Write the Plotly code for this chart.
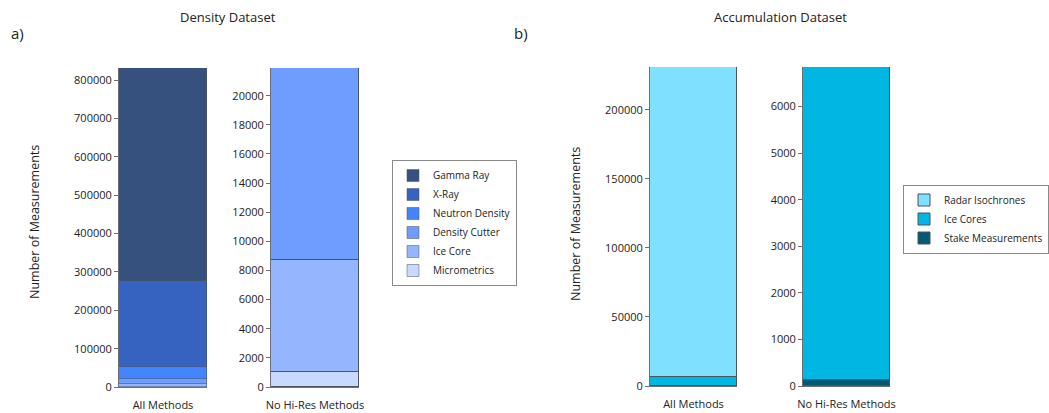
import plotly.graph_objects as go

# ---------------- data ----------------
density_methods = ["Micrometrics", "Ice Core", "Density Cutter", "Neutron Density", "X-Ray", "Gamma Ray"]
density_all = [1000, 7700, 13200, 29700, 224100, 556300]
density_nohires = [1000, 7700, 13200, 0, 0, 0]

accum_methods = ["Stake Measurements", "Ice Cores", "Radar Isochrones"]
accum_all = [120, 6730, 224150]
accum_nohires = [120, 6730, 0]

cat_all = "All Methods"
cat_nohires = "No Hi-Res Methods"

density_ticks_all = [0, 100000, 200000, 300000, 400000, 500000, 600000, 700000, 800000]
density_ticks_nohires = [0, 2000, 4000, 6000, 8000, 10000, 12000, 14000, 16000, 18000, 20000]
accum_ticks_all = [0, 50000, 100000, 150000, 200000]
accum_ticks_nohires = [0, 1000, 2000, 3000, 4000, 5000, 6000]

# ---------------- style ----------------
density_colors = ["#c8d9ff", "#93b6ff", "#6c9dff", "#4285ff", "#3563bf", "#37517f"]
accum_colors = ["#005a73", "#00b7e4", "#80e1ff"]
edge = "#4d5360"
FONT = "Open Sans"
W, H = 1049, 413

def px_x(a, b):
    return [a / W, b / W]

def px_y(top, bottom):
    return [1 - bottom / H, 1 - top / H]

fig = go.Figure()

for i, m in enumerate(density_methods):
    fig.add_bar(x=[cat_all], y=[density_all[i]], name=m, legendgroup=m, legend="legend",
                marker=dict(color=density_colors[i], line=dict(color=edge, width=0.5)),
                xaxis="x", yaxis="y")
    if density_nohires[i] > 0:
        fig.add_bar(x=[cat_nohires], y=[density_nohires[i]], name=m, legendgroup=m,
                    showlegend=False,
                    marker=dict(color=density_colors[i], line=dict(color=edge, width=1)),
                    xaxis="x2", yaxis="y2")

for i, m in enumerate(accum_methods):
    fig.add_bar(x=[cat_all], y=[accum_all[i]], name=m, legendgroup=m, legend="legend2",
                marker=dict(color=accum_colors[i], line=dict(color=edge, width=1)),
                xaxis="x3", yaxis="y3")
    if accum_nohires[i] > 0:
        fig.add_bar(x=[cat_nohires], y=[accum_nohires[i]], name=m, legendgroup=m,
                    showlegend=False,
                    marker=dict(color=accum_colors[i], line=dict(color=edge, width=1)),
                    xaxis="x4", yaxis="y4")

axis_common = dict(showline=True, linecolor="#6a6f78", linewidth=1, showgrid=False,
                   zeroline=False, automargin=False,
                   tickfont=dict(family=FONT, size=11, color="#222"))

xcommon = dict(axis_common, type="category", ticks="outside", ticklen=8,
               tickcolor="rgba(0,0,0,0)")
ycommon = dict(axis_common, ticks="outside", ticklen=4, tickcolor="#6a6f78",
               tickformat="d")

layout_axes = dict(
    xaxis=dict(xcommon, domain=px_x(119, 207), anchor="y"),
    yaxis=dict(ycommon, domain=px_y(68, 387), anchor="x",
               range=[0, sum(density_all)], tickvals=density_ticks_all),
    xaxis2=dict(xcommon, domain=px_x(271, 359), anchor="y2"),
    yaxis2=dict(ycommon, domain=px_y(68, 387), anchor="x2",
                range=[0, sum(density_nohires)], tickvals=density_ticks_nohires),
    xaxis3=dict(xcommon, domain=px_x(650, 737), anchor="y3"),
    yaxis3=dict(ycommon, domain=px_y(67, 386), anchor="x3",
                range=[0, sum(accum_all)], tickvals=accum_ticks_all),
    xaxis4=dict(xcommon, domain=px_x(803, 890), anchor="y4"),
    yaxis4=dict(ycommon, domain=px_y(67, 386), anchor="x4",
                range=[0, sum(accum_nohires)], tickvals=accum_ticks_nohires),
)

def ann(text, x, y, size=12, angle=0, xanchor="center"):
    return dict(text=text, x=x / W, y=1 - y / H, xref="paper", yref="paper",
                showarrow=False, textangle=angle, xanchor=xanchor, yanchor="middle",
                font=dict(family=FONT, size=size, color="#222"))

annotations = [
    ann("Density Dataset", 228, 17, size=13),
    ann("Accumulation Dataset", 780, 17, size=13),
    ann("a)", 9, 33, size=15, xanchor="left"),
    ann("b)", 512, 33, size=15, xanchor="left"),
    ann("Number of Measurements", 35, 222, size=12.5, angle=-90),
    ann("Number of Measurements", 575, 224, size=12.5, angle=-90),
]

legend_common = dict(bgcolor="white", bordercolor="#8a8a8a", borderwidth=1,
                     font=dict(family=FONT, size=10, color="#222"),
                     traceorder="reversed", tracegroupgap=0,
                     xanchor="left", yanchor="middle",
                     itemclick=False, itemdoubleclick=False)

fig.update_layout(
    width=W, height=H, autosize=False,
    margin=dict(l=0, r=0, t=0, b=0, autoexpand=False),
    paper_bgcolor="white", plot_bgcolor="white",
    barmode="stack", bargap=0,
    font=dict(family=FONT, color="#222"),
    legend=dict(legend_common, x=392 / W, y=1 - 223 / H),
    legend2=dict(legend_common, x=903 / W, y=1 - 219 / H),
    annotations=annotations,
    **layout_axes,
)

fig.write_html("out.html", config={"displayModeBar": False},
               post_script="document.body.style.margin='0px';")
